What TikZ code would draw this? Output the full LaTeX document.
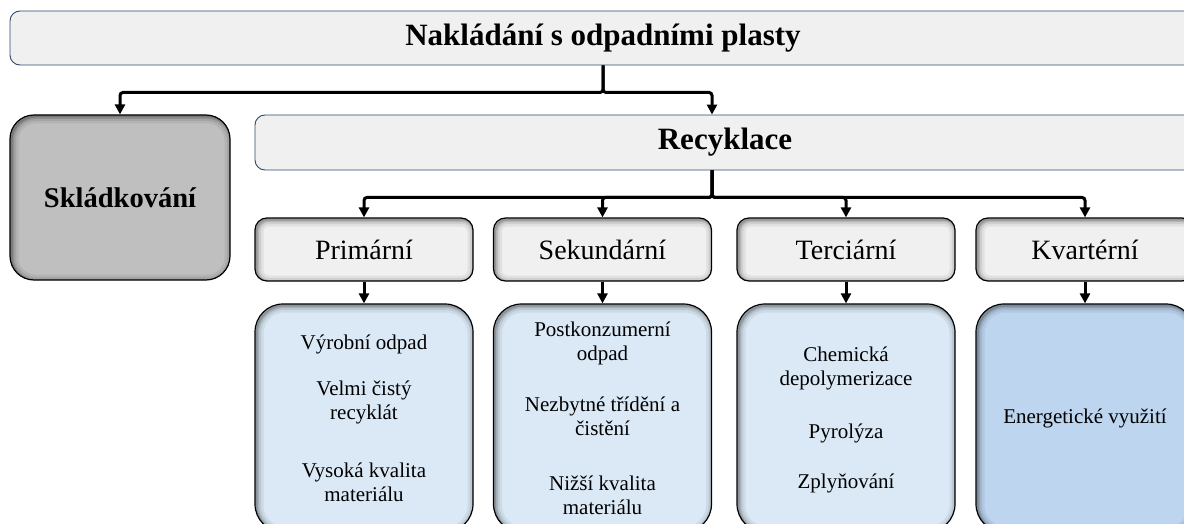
\documentclass[tikz,border=0pt]{standalone}
\usepackage{fontspec}
\setmainfont{Liberation Serif}
\usepackage{tikz}
\usetikzlibrary{arrows.meta,positioning}

\definecolor{headline}{HTML}{2F4A6E}
\definecolor{headfill}{HTML}{F0F0F0}
\definecolor{landfill}{HTML}{BFBFBF}
\definecolor{itemfill}{HTML}{DAE9F5}
\definecolor{energyfill}{HTML}{BDD5EE}

\begin{document}
\begin{tikzpicture}[
  x=1pt, y=-1pt,
  inshadow/.style={path picture={
    \foreach \w/\o in {14/0.06, 9/0.08, 5/0.12, 2/0.16}
      \draw[line width=\w pt, black, opacity=\o, rounded corners=#1]
        ([shift={(1.5pt,-1.5pt)}]path picture bounding box.south west) rectangle
        ([shift={(1.5pt,-1.5pt)}]path picture bounding box.north east);}},
  headbox/.style={draw=headline, line width=0.9pt, fill=headfill, rounded corners=10pt,
    font=\bfseries\fontsize{31}{36}\selectfont},
  landbox/.style={draw, line width=1.2pt, fill=landfill, rounded corners=24pt, inshadow=24pt,
    minimum width=220pt, minimum height=165pt, font=\bfseries\fontsize{28.5}{33}\selectfont},
  levelbox/.style={draw, line width=1.2pt, fill=headfill, rounded corners=12pt, inshadow=12pt,
    minimum width=218pt, minimum height=63pt, font=\fontsize{28}{32}\selectfont},
  itembox/.style={draw, line width=1.2pt, fill=itemfill, rounded corners=28pt, inshadow=28pt,
    minimum width=218pt, minimum height=228pt, align=center, font=\fontsize{21}{24}\selectfont},
  link/.style={-{Triangle[length=10pt,width=10pt]}, line width=3pt, rounded corners=3pt}
]
\useasboundingbox (0,0) rectangle (1184,524);
\clip (0,0) rectangle (1184,524);

\node[headbox, minimum width=1186pt, minimum height=54pt] (top) at (603,38) {Nakládání s odpadními plasty};
\node[landbox] (sklad) at (120,197.5) {Skládkování};
\node[headbox, minimum width=940pt, minimum height=55pt] (rec) at (725,142.5) {Recyklace};
\coordinate (rx) at (712,0);

\node[levelbox] (prim) at (364,249.5) {Primární};
\node[levelbox] (sek) at (602.5,249.5) {Sekundární};
\node[levelbox] (terc) at (846,249.5) {Terciární};
\node[levelbox] (kvart) at (1085,249.5) {Kvartérní};

\node[itembox] (primlow) at (364,418) {Výrobní odpad\\[22pt]Velmi čistý\\recyklát\\[34pt]Vysoká kvalita\\materiálu};
\node[itembox] (seklow) at (602.5,418) {Postkonzumerní\\odpad\\[27pt]Nezbytné třídění a\\čistění\\[31pt]Nižší kvalita\\materiálu};
\node[itembox, text depth=-6pt] (terclow) at (846,418) {Chemická\\depolymerizace\\[29pt]Pyrolýza\\[26pt]Zplyňování};
\node[itembox, fill=energyfill] (kvartlow) at (1085,418) {Energetické využití};

\draw[link] (top.south) -- ++(0,27) -| (sklad.north);
\draw[link] (top.south) -- ++(0,27) -| (rx |- rec.north);
\foreach \n in {prim,sek,terc,kvart} {
  \draw[link] (rx |- rec.south) -- ++(0,27) -| (\n.north);
  \draw[link] (\n.south) -- (\n low.north);
}

\end{tikzpicture}
\end{document}
